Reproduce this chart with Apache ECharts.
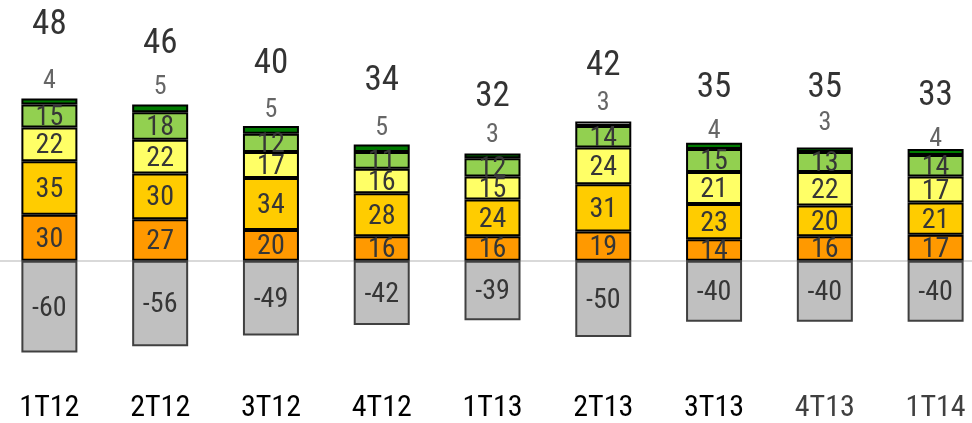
<!DOCTYPE html>
<html>
<head>
<meta charset="utf-8">
<script src="https://cdn.jsdelivr.net/npm/echarts@6/dist/echarts.min.js"></script>
<style>
  html, body { margin: 0; padding: 0; background: #ffffff; overflow: hidden; }
  body { width: 972px; height: 423px; }
  /* the plot runs slightly past both page edges, so the canvas is wider than the page */
  #chart { width: 997px; height: 423px; margin-left: -6px; }
</style>
</head>
<body>
<div id="chart"></div>
<script>
// Quarterly balance: five positive components stacked up, one negative component below zero
const quarters   = ['1T12', '2T12', '3T12', '4T12', '1T13', '2T13', '3T13', '4T13', '1T14'];
const orangePart = [30, 27, 20, 16, 16, 19, 14, 16, 17];
const goldPart   = [35, 30, 34, 28, 24, 31, 23, 20, 21];
const yellowPart = [22, 22, 17, 16, 15, 24, 21, 22, 17];
const lightGreen = [15, 18, 12, 11, 12, 14, 15, 13, 14];
const darkGreen  = [4, 5, 5, 5, 3, 3, 4, 3, 4];
const greyPart   = [-60, -56, -49, -42, -39, -50, -40, -40, -40];
const netTotals  = [48, 46, 40, 34, 32, 42, 35, 35, 33];

// Label placement (pixels above each stack top) and a few per-item style tweaks
const totalLift  = [73, 60, 62, 63, 56, 55, 55, 59, 53];
const topLift    = [17, 17, 16, 16, 18, 18, 11, 24, 9];
const topColours = ['#007A00', '#007A00', '#007A00', '#007A00', '#007A00', '#FFFFFF', '#007A00', '#007A00', '#007A00'];
const quarterInk = ['#000000', '#000000', '#000000', '#000000', '#000000', '#000000', '#000000', '#404040', '#404040'];

const FONT = '"Roboto Condensed", "Liberation Sans Narrow", "DejaVu Sans Condensed", sans-serif';

const stackTops = quarters.map((_, i) =>
  orangePart[i] + goldPart[i] + yellowPart[i] + lightGreen[i] + darkGreen[i]);

function segment(name, values, colour, withLabel) {
  return {
    name: name,
    type: 'bar',
    stack: 'all',
    barWidth: 56,
    data: values,
    itemStyle: { color: colour, borderColor: '#000000', borderWidth: 2 },
    label: {
      show: withLabel,
      position: 'inside',
      offset: [0, 2],
      color: '#363636',
      fontFamily: FONT,
      fontSize: 28,
      formatter: p => String(p.value)
    },
    emphasis: { disabled: true }
  };
}

const chart = echarts.init(document.getElementById('chart'), null, { renderer: 'canvas' });

chart.setOption({
  animation: false,
  backgroundColor: '#ffffff',
  grid: { left: 0, right: 0, top: 15.9, bottom: 39.4, containLabel: false },
  xAxis: {
    type: 'category',
    data: quarters.map((q, i) => ({ value: q, textStyle: { color: quarterInk[i] } })),
    position: 'bottom',
    axisLine: { show: false, onZero: false },
    axisTick: { show: false },
    axisLabel: { fontFamily: FONT, fontSize: 30, margin: 10, color: '#000000' },
    splitLine: { show: false }
  },
  yAxis: {
    type: 'value',
    min: -80,
    max: 160,
    show: false,
    splitLine: { show: false }
  },
  series: [
    Object.assign(segment('orange', orangePart, '#FF9900', true), {
      markLine: {
        silent: true,
        symbol: ['none', 'none'],
        label: { show: false },
        lineStyle: { color: '#D9D9D9', width: 2, type: 'solid' },
        data: [{ yAxis: 0 }],
        z: 1
      }
    }),
    segment('gold', goldPart, '#FFCC00', true),
    segment('yellow', yellowPart, '#FFFF66', true),
    segment('lightGreen', lightGreen, '#92D050', true),
    segment('darkGreen', darkGreen.map((v, i) => ({
      value: v, itemStyle: { color: topColours[i] }
    })), '#007A00', false),
    {
      name: 'grey',
      type: 'bar',
      stack: 'all',
      barWidth: 56,
      data: greyPart,
      itemStyle: { color: '#C0C0C0', borderColor: '#404040', borderWidth: 2 },
      label: {
        show: true,
        position: 'inside',
        offset: [0, 2],
        color: '#363636',
        fontFamily: FONT,
        fontSize: 28,
        formatter: p => String(p.value)
      },
      emphasis: { disabled: true }
    },
    {
      name: 'topValue',
      type: 'scatter',
      symbolSize: 1,
      itemStyle: { color: 'rgba(0,0,0,0)' },
      data: stackTops.map((t, i) => ({
        value: [i, t],
        label: { offset: [0, -topLift[i]] }
      })),
      label: {
        show: true,
        position: 'inside',
        color: '#404040',
        fontFamily: FONT,
        fontSize: 26,
        formatter: p => String(darkGreen[p.dataIndex])
      },
      emphasis: { disabled: true },
      z: 5
    },
    {
      name: 'netTotal',
      type: 'scatter',
      symbolSize: 1,
      itemStyle: { color: 'rgba(0,0,0,0)' },
      data: stackTops.map((t, i) => ({
        value: [i, t],
        label: { offset: [0, -totalLift[i]] }
      })),
      label: {
        show: true,
        position: 'inside',
        color: '#000000',
        fontFamily: FONT,
        fontSize: 35,
        formatter: p => String(netTotals[p.dataIndex])
      },
      emphasis: { disabled: true },
      z: 5
    }
  ]
});
</script>
</body>
</html>
